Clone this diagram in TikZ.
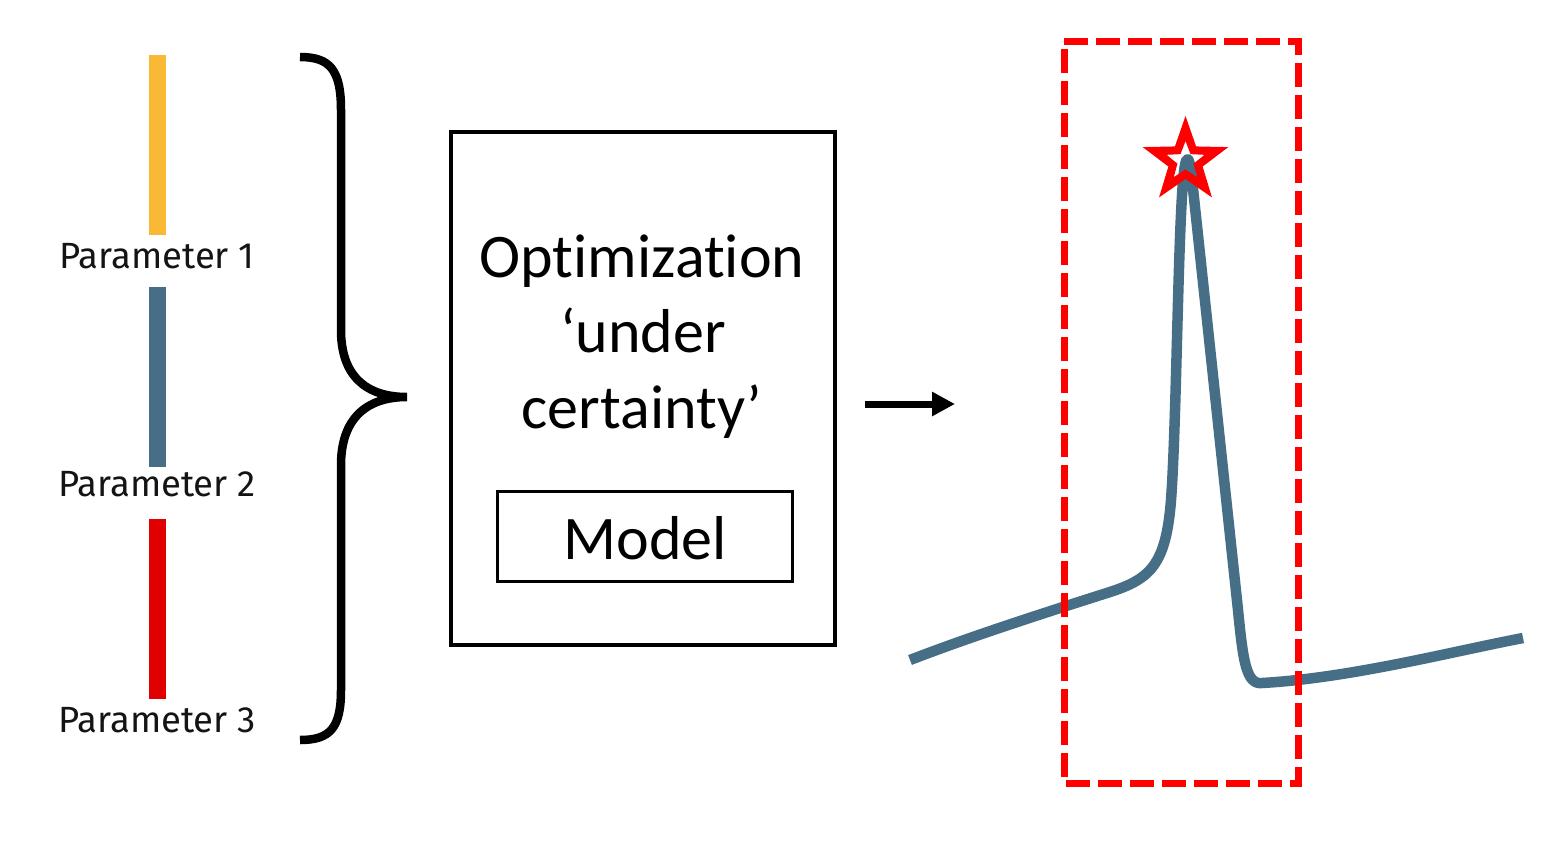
\documentclass[tikz,border=0pt]{standalone}
\usepackage{fontspec}
\setmainfont{Carlito}[Ligatures={NoCommon}]
\newfontfamily\parfont{Fira Sans}
\usetikzlibrary{arrows.meta}
\definecolor{pyellow}{RGB}{249,185,52}
\definecolor{pblue}{RGB}{70,111,135}
\definecolor{pred}{RGB}{225,0,0}
\definecolor{pure}{RGB}{255,0,0}
\definecolor{ptext}{RGB}{20,20,20}
\begin{document}
\begin{tikzpicture}[x=1pt,y=-1pt,
  bar/.style={inner sep=0pt, minimum width=17pt, minimum height=180pt, draw=none},
  plabel/.style={anchor=base, inner sep=0pt, text=ptext, font=\parfont\fontsize{36.5}{42}\selectfont},
  bigtext/.style={anchor=base, inner sep=0pt, font=\fontsize{62}{75}\selectfont},
  framebox/.style={draw=black, line width=3.5pt, inner sep=0pt},
  curveline/.style={draw=pblue, line width=10.5pt, line join=round},
]
\fill[white] (0,0) rectangle (1549,841);
\useasboundingbox (0,0) rectangle (1549,841);

% parameter bars and labels
\node[bar, fill=pyellow] (b1) at (157.5,145) {};
\node[bar, fill=pblue]   (b2) at (157.5,377) {};
\node[bar, fill=pred]    (b3) at (157.5,609) {};
\node[plabel] (p1) at (157,268) {Parameter 1};
\node[plabel] (p2) at (157,496) {Parameter 2};
\node[plabel] (p3) at (157,732) {Parameter 3};

% brace
\draw[line width=8.5pt] (300,57) .. controls (330,57) and (341,70) .. (341,110)
  -- (341,330) .. controls (341,375) and (365,397) .. (407,397)
  .. controls (365,397) and (341,420) .. (341,465)
  -- (341,690) .. controls (341,728) and (330,740) .. (300,740);

% optimization box
\node[framebox, minimum width=384pt, minimum height=513pt] (opt) at (643,388.5) {};
\node[bigtext] (o1) at (642,277) {Opt\kern0pt imizat\kern0pt ion};
\node[bigtext] (o2) at (643,352) {‘under};
\node[bigtext] (o3) at (642,428) {certainty’};
\node[framebox, minimum width=295pt, minimum height=90pt] (model) at (645,536.5) {};
\node[bigtext] (mt) at (645,559) {Model};

% arrow
\coordinate (a0) at (865,404);
\coordinate (a1) at (955,404);
\draw[line width=7pt, -{Triangle[length=23pt,width=23pt]}] (a0) -- (a1);

% curve
\draw[curveline] (910,660) .. controls (980,633) and (1060,608) .. (1110,592)
  .. controls (1150,579) and (1166,565) .. (1171,500)
  .. controls (1177,420) and (1178,200) .. (1185,165)
  .. controls (1187,155) and (1189,158) .. (1191,170)
  -- (1238,610)
  .. controls (1243,660) and (1246,685) .. (1262,683)
  .. controls (1350,678) and (1450,652) .. (1523,638);

% dashed frame
\coordinate (dtl) at (1064,41);
\coordinate (dtr) at (1298,41);
\coordinate (dbr) at (1298,783);
\coordinate (dbl) at (1064,783);
\draw[draw=pure, line width=7pt, dash pattern=on 24pt off 8pt] (dtl) -- (dtr) -- (dbr) -- (dbl) -- cycle;

% star
\begin{scope}[shift={(1185.5,161)}]
\fill[pure, even odd rule]
  (270:45) -- (306:18) -- (342:45) -- (18:18) -- (54:45) -- (90:18) -- (126:45) -- (162:18) -- (198:45) -- (234:18) -- cycle
  (270:20) -- (306:8.5) -- (342:20) -- (18:8.5) -- (54:20) -- (90:8.5) -- (126:20) -- (162:8.5) -- (198:20) -- (234:8.5) -- cycle;
\end{scope}
\end{tikzpicture}
\end{document}
